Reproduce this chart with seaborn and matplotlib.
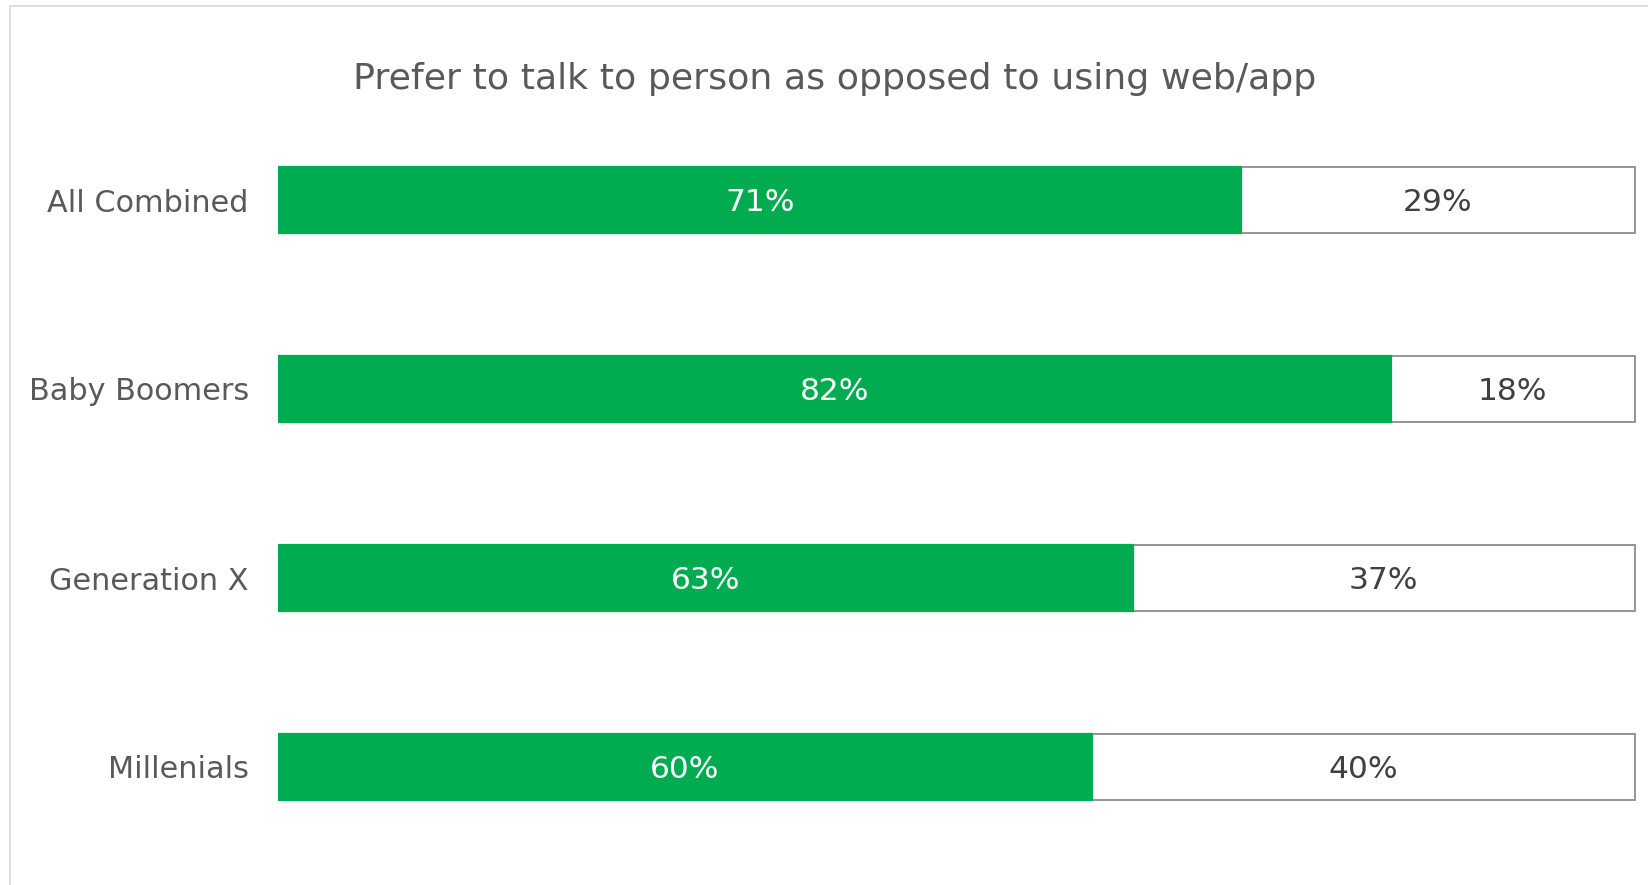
import matplotlib
matplotlib.use("Agg")
import matplotlib.pyplot as plt
import seaborn as sns
import pandas as pd
from matplotlib.patches import Rectangle

categories = ["All Combined", "Baby Boomers", "Generation X", "Millenials"]
prefer_person = [71, 82, 63, 60]
prefer_web = [29, 18, 37, 40]
title = "Prefer to talk to person as opposed to using web/app"

GREEN = "#00AC4F"
TXT = "#595959"

sns.set_theme(style="white")
plt.rcParams["font.family"] = ["DejaVu Sans"]

df = pd.DataFrame({
    "cat": categories,
    "person": prefer_person,
    "web": prefer_web,
})
df["total"] = df["person"] + df["web"]

fig = plt.figure(figsize=(16.49, 8.85), dpi=100)
fig.patch.set_facecolor("white")
ax = fig.add_axes([278 / 1649, 1 - 861.5 / 885, (1637.5 - 278) / 1649, 756 / 885])

sns.barplot(data=df, y="cat", x="total", orient="h", color="white",
            edgecolor="#8c8c8c", linewidth=1.3, width=0.35, ax=ax, saturation=1)
sns.barplot(data=df, y="cat", x="person", orient="h", color=GREEN,
            edgecolor=GREEN, linewidth=1.6, width=0.35, ax=ax, saturation=1)

ax.set_xlim(0, 100.2)
ax.set_ylim(3.5, -0.5)
ax.set_xlabel("")
ax.set_ylabel("")
ax.set_xticks([])
for s in ax.spines.values():
    s.set_visible(False)
ax.tick_params(axis="y", length=0, pad=21, labelsize=21.8, labelcolor=TXT)
for lab in ax.get_yticklabels():
    lab.set_y(lab.get_position()[1])
    lab.set_va("center_baseline")

for i, (p, w) in enumerate(zip(prefer_person, prefer_web)):
    ax.text(p / 2, i + 0.012, f"{p}%", ha="center", va="center", color="white",
            fontsize=22.5)
    ax.text(p + w / 2, i + 0.012, f"{w}%", ha="center", va="center", color="#404040",
            fontsize=22.5)

fig.text(835 / 1649, 1 - 79 / 885, title, ha="center", va="center",
         color=TXT, fontsize=26.2)

fig.patches.append(Rectangle((10 / 1649, -0.1), 1.2, 1 - 6 / 885 + 0.1,
                             transform=fig.transFigure, fill=False,
                             edgecolor="#d9d9d9", linewidth=1.2))

fig.savefig("out.png", dpi=100, facecolor="white")
